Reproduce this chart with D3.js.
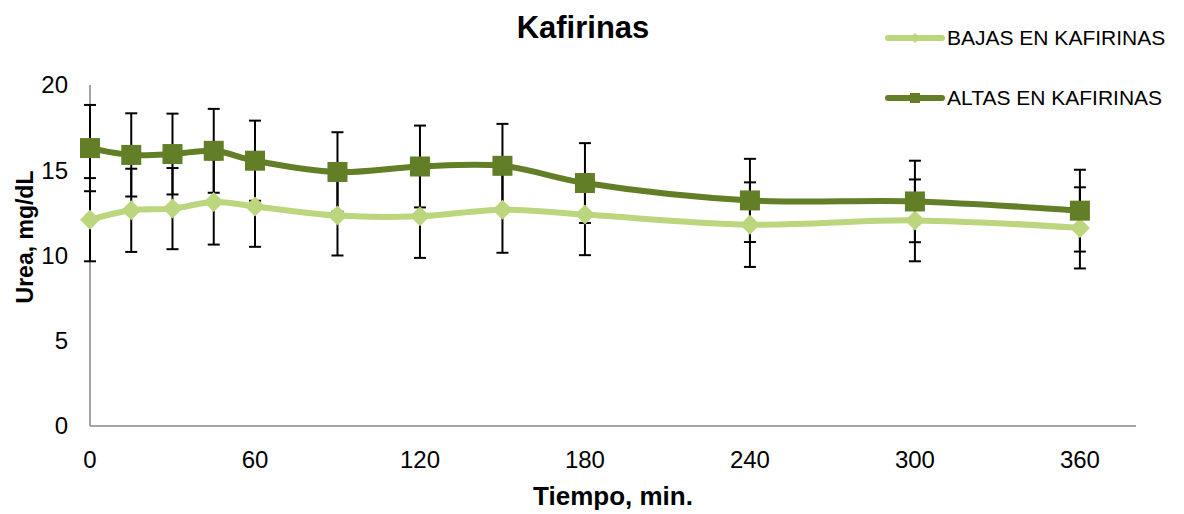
<!DOCTYPE html>
<html>
<head>
<meta charset="utf-8">
<script src="https://cdn.jsdelivr.net/npm/d3@7"></script>
<style>
  body { margin: 0; background: #fff; }
  svg text { font-family: Arial, "Liberation Sans", sans-serif; fill: #000; }
</style>
</head>
<body>
<div id="chart"></div>
<script>
// Time points (min)
const tiempos = [0, 15, 30, 45, 60, 90, 120, 150, 180, 240, 300, 360];

// Urea, mg/dL
const bajas = [12.1, 12.65, 12.75, 13.14, 12.88, 12.34, 12.3, 12.69, 12.4, 11.81, 12.06, 11.62];
const bajasErr = [2.44, 2.44, 2.38, 2.5, 2.37, 2.34, 2.44, 2.53, 2.38, 2.48, 2.4, 2.38];

const altas = [16.3, 15.9, 15.95, 16.14, 15.56, 14.9, 15.22, 15.26, 14.25, 13.23, 13.17, 12.63];
const altasErr = [2.53, 2.44, 2.37, 2.46, 2.35, 2.33, 2.4, 2.46, 2.34, 2.44, 2.39, 2.4];

const xTicks = [0, 60, 120, 180, 240, 300, 360];
const yTicks = [0, 5, 10, 15, 20];

const width = 1184, height = 514;
const plot = { left: 90, right: 1136, top: 85, bottom: 426 };

const svg = d3.select("#chart").append("svg")
    .attr("width", width)
    .attr("height", height);

const x = d3.scaleLinear().domain([0, 380.4]).range([plot.left, plot.right]);
const y = d3.scaleLinear().domain([0, 20]).range([plot.bottom, plot.top]);

const series = [
    { name: "BAJAS EN KAFIRINAS", values: bajas, err: bajasErr, color: "#bbd67d", marker: "diamond" },
    { name: "ALTAS EN KAFIRINAS", values: altas, err: altasErr, color: "#627f27", marker: "square" }
];

// Axes (plain lines, no tick marks)
svg.append("line")
    .attr("x1", plot.left).attr("x2", plot.left)
    .attr("y1", plot.top).attr("y2", plot.bottom)
    .attr("stroke", "#878787").attr("stroke-width", 1.5);
svg.append("line")
    .attr("x1", plot.left).attr("x2", plot.right)
    .attr("y1", plot.bottom).attr("y2", plot.bottom)
    .attr("stroke", "#878787").attr("stroke-width", 1.5);

svg.append("g").selectAll("text")
    .data(yTicks)
    .join("text")
    .attr("x", 68)
    .attr("y", d => y(d))
    .attr("dy", "0.35em")
    .attr("text-anchor", "end")
    .attr("font-size", 24)
    .text(d => d);

svg.append("g").selectAll("text")
    .data(xTicks)
    .join("text")
    .attr("x", d => x(d))
    .attr("y", 468)
    .attr("text-anchor", "middle")
    .attr("font-size", 24)
    .text(d => d);

// Titles
svg.append("text")
    .attr("x", 583).attr("y", 38)
    .attr("text-anchor", "middle")
    .attr("font-size", 31).attr("font-weight", "bold")
    .text("Kafirinas");

svg.append("text")
    .attr("x", 613).attr("y", 505)
    .attr("text-anchor", "middle")
    .attr("font-size", 26).attr("font-weight", "bold")
    .text("Tiempo, min.");

svg.append("text")
    .attr("transform", "translate(33,237) rotate(-90)")
    .attr("text-anchor", "middle")
    .attr("font-size", 23).attr("font-weight", "bold")
    .text("Urea, mg/dL");

// Error bars (behind lines and markers)
const errLayer = svg.append("g").attr("class", "error-bars");
series.forEach(s => {
    const g = errLayer.append("g");
    const pts = tiempos.map((t, i) => ({ t, v: s.values[i], e: s.err[i] }));
    g.selectAll("line.stem")
        .data(pts)
        .join("line")
        .attr("class", "stem")
        .attr("x1", d => x(d.t)).attr("x2", d => x(d.t))
        .attr("y1", d => y(d.v + d.e)).attr("y2", d => y(d.v - d.e))
        .attr("stroke", "#000").attr("stroke-width", 2);
    [1, -1].forEach(sign => {
        g.selectAll(null)
            .data(pts)
            .join("line")
            .attr("x1", d => x(d.t) - 6).attr("x2", d => x(d.t) + 6)
            .attr("y1", d => y(d.v + sign * d.e)).attr("y2", d => y(d.v + sign * d.e))
            .attr("stroke", "#000").attr("stroke-width", 2);
    });
});

// Smoothed lines
const line = d3.line()
    .x(d => x(d[0]))
    .y(d => y(d[1]))
    .curve(d3.curveCatmullRom.alpha(0.5));

series.forEach(s => {
    svg.append("path")
        .datum(tiempos.map((t, i) => [t, s.values[i]]))
        .attr("fill", "none")
        .attr("stroke", s.color)
        .attr("stroke-width", 6)
        .attr("stroke-linejoin", "round")
        .attr("d", line);
});

// Markers
const diamond = r => `M0,${-r}L${r},0L0,${r}L${-r},0Z`;
series.forEach(s => {
    const g = svg.append("g");
    const pts = tiempos.map((t, i) => [t, s.values[i]]);
    if (s.marker === "square") {
        g.selectAll("rect")
            .data(pts)
            .join("rect")
            .attr("x", d => x(d[0]) - 10).attr("y", d => y(d[1]) - 10)
            .attr("width", 20).attr("height", 20)
            .attr("fill", s.color);
    } else {
        g.selectAll("path")
            .data(pts)
            .join("path")
            .attr("transform", d => `translate(${x(d[0])},${y(d[1])})`)
            .attr("d", diamond(10))
            .attr("fill", s.color);
    }
});

// Legend
const legend = svg.append("g").attr("class", "legend");
series.forEach((s, i) => {
    const ly = 38 + i * 60;
    const g = legend.append("g").attr("transform", `translate(888,${ly})`);
    g.append("line")
        .attr("x1", 0).attr("x2", 54)
        .attr("stroke", s.color).attr("stroke-width", 6)
        .attr("stroke-linecap", "round");
    if (s.marker === "square") {
        g.append("rect").attr("x", 22).attr("y", -5).attr("width", 10).attr("height", 10).attr("fill", s.color);
    } else {
        g.append("path").attr("transform", "translate(27,0)").attr("d", diamond(5)).attr("fill", s.color);
    }
    g.append("text")
        .attr("x", 59).attr("dy", "0.35em")
        .attr("font-size", 21)
        .text(s.name);
});
</script>
</body>
</html>
